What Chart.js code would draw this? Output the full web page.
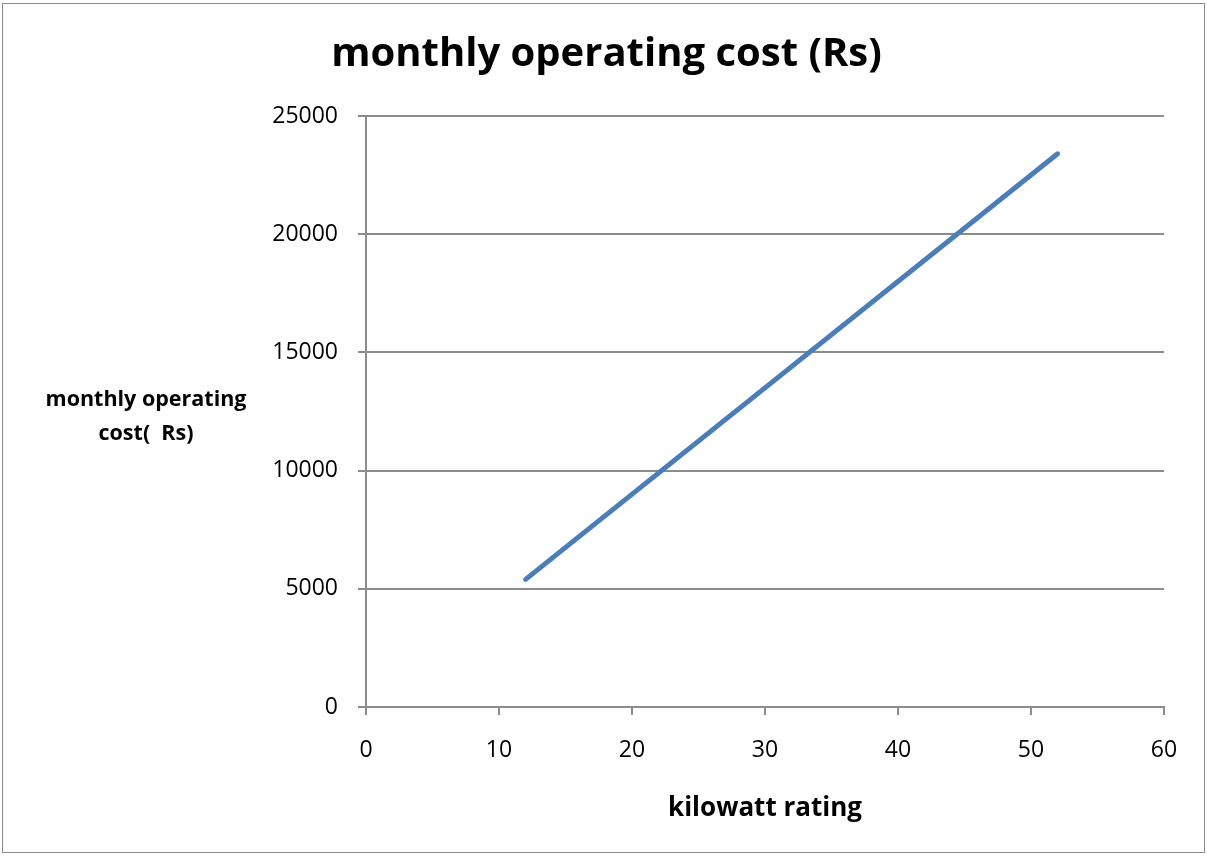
<!DOCTYPE html>
<html>
<head>
<meta charset="utf-8">
<script src="https://cdn.jsdelivr.net/npm/chart.js@4.4.1/dist/chart.umd.min.js"></script>
<style>
  html, body { margin: 0; padding: 0; background: #fff; }
  #wrap { position: relative; width: 1207px; height: 856px; }
</style>
</head>
<body>
<div id="wrap"><canvas id="c"></canvas></div>
<script>
const kilowatts = [12, 52];
const monthlyCost = [5400, 23400];
const xTicks = [0, 10, 20, 30, 40, 50, 60];
const yTicks = [0, 5000, 10000, 15000, 20000, 25000];

const FONT = "'Open Sans', sans-serif";
const GRID = "#8c8c8c";
const BLUE = "#4a7ebb";

Chart.defaults.font.family = FONT;
Chart.defaults.color = "#000";

const frame = {
    id: "frame",
    afterDraw(chart) {
        const ctx = chart.ctx;
        ctx.save();
        ctx.strokeStyle = "#8c8c8c";
        ctx.lineWidth = 1;
        ctx.strokeRect(2.5, 3.5, 1202, 849);
        // horizontal y-axis title, like the Excel original
        ctx.fillStyle = "#000";
        ctx.font = "bold 21.5px " + FONT;
        ctx.textAlign = "center";
        ctx.textBaseline = "alphabetic";
        ctx.fillText("monthly operating", 146, 406);
        ctx.fillText("cost(  Rs)", 146, 440);
        ctx.restore();
    },
};

new Chart(document.getElementById("c"), {
    type: "scatter",
    data: {
        datasets: [{
            label: "monthly operating cost (Rs)",
            data: kilowatts.map((k, i) => ({ x: k, y: monthlyCost[i] })),
            showLine: true,
            borderColor: BLUE,
            borderWidth: 5,
            borderCapStyle: "round",
            pointRadius: 0,
            tension: 0,
        }],
    },
    options: {
        responsive: true,
        maintainAspectRatio: false,
        animation: false,
        layout: { padding: { left: 49, right: 43, top: 0, bottom: 0 } },
        plugins: {
            legend: { display: false },
            tooltip: { enabled: false },
            title: {
                display: true,
                text: "monthly operating cost (Rs)",
                color: "#000",
                font: { size: 40, weight: "bold" },
                padding: { top: 31, bottom: 37 },
            },
        },
        scales: {
            x: {
                type: "linear",
                min: 0,
                max: 60,
                afterBuildTicks: s => { s.ticks = xTicks.map(v => ({ value: v })); },
                afterFit: s => { s.height = 149; },
                ticks: { font: { size: 23 }, color: "#000", padding: 22, callback: v => String(v) },
                grid: { drawOnChartArea: false, drawTicks: true, tickLength: 8, color: GRID, lineWidth: 2 },
                border: { display: true, color: GRID, width: 2 },
                title: {
                    display: true,
                    text: "kilowatt rating",
                    color: "#000",
                    font: { size: 26, weight: "bold" },
                    padding: { top: 0, bottom: 32 },
                },
            },
            y: {
                type: "linear",
                min: 0,
                max: 25000,
                afterBuildTicks: s => { s.ticks = yTicks.map(v => ({ value: v })); },
                afterFit: s => { s.width = 317; },
                ticks: { font: { size: 23 }, color: "#000", padding: 20, callback: v => String(v) },
                grid: { drawOnChartArea: true, drawTicks: true, tickLength: 8, color: GRID, lineWidth: 2 },
                border: { display: true, color: GRID, width: 2 },
            },
        },
    },
    plugins: [frame],
});
</script>
</body>
</html>
